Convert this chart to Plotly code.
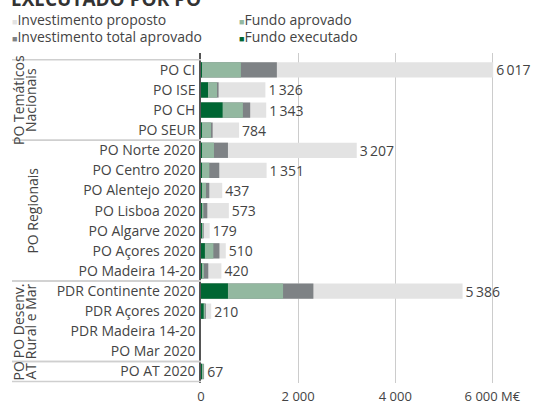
import plotly.graph_objects as go

categories = ["PO CI", "PO ISE", "PO CH", "PO SEUR",
              "PO Norte 2020", "PO Centro 2020", "PO Alentejo 2020", "PO Lisboa 2020",
              "PO Algarve 2020", "PO Açores 2020", "PO Madeira 14-20",
              "PDR Continente 2020", "PDR Açores 2020", "PDR Madeira 14-20", "PO Mar 2020",
              "PO AT 2020"]
inv_proposto = [6017, 1326, 1343, 784, 3207, 1351, 437, 573, 179, 510, 420, 5386, 210, None, None, 67]
inv_total_aprovado = [1562, 362, 1013, 240, 555, 376, 171, 130, 55, 380, 150, 2314, 100, None, None, 60]
fundo_aprovado = [822, 329, 863, 205, 267, 171, 103, 50, 30, 255, 60, 1690, 85, None, None, 55]
fundo_executado = [5, 144, 445, 5, 20, 10, 5, 5, 5, 80, 10, 555, 55, None, None, 5]

groups = [(["PO Temáticos", "Nacionais"], -0.5, 3.5),
          (["PO Regionais"], 3.5, 10.5),
          (["PO Desenv.", "Rural e Mar"], 10.5, 14.5),
          (["PO", "AT"], 14.5, 15.5)]

tick_vals = [0, 2000, 4000, 6000]
tick_text = ["0", "2 000", "4 000", "6 000 M€"]


def fmt(v):
    if v is None:
        return ""
    return f"{v:,}".replace(",", "\u2009")


C_PROP = "#e3e3e3"
C_TOT = "#7e8285"
C_FAP = "#93b8a0"
C_FEX = "#006633"

series = [("Investimento proposto", inv_proposto, C_PROP),
          ("Investimento total aprovado", inv_total_aprovado, C_TOT),
          ("Fundo aprovado", fundo_aprovado, C_FAP),
          ("Fundo executado", fundo_executado, C_FEX)]

fig = go.Figure()
for i, (name, vals, col) in enumerate(series):
    kw = {}
    if i == 0:
        kw = dict(text=[fmt(v) for v in vals], textposition="outside", constraintext="none",
                  textfont=dict(size=14, color="#444"), cliponaxis=False)
    fig.add_trace(go.Bar(y=categories, x=vals, orientation="h", name=name, showlegend=False,
                         marker=dict(color=col, line=dict(width=0)), **kw))

L, R, T, B = 201, 0, 53, 22
W, H = 539, 405
pw = W - L - R
ph = H - T - B
xl = (12 - L) / pw

shapes = []
for lines, y0, y1 in groups:
    for yy in (y0, y1):
        shapes.append(dict(type="line", xref="paper", yref="y", x0=xl, x1=0, y0=yy, y1=yy,
                           line=dict(color="#cfcfcf", width=1.5)))

annotations = []
for lines, y0, y1 in groups:
    xs = [33] if len(lines) == 1 else [18, 30]
    for txt, px in zip(lines, xs):
        annotations.append(dict(text=txt, xref="paper", yref="y", x=(px - L) / pw, y=(y0 + y1) / 2,
                                textangle=-90, showarrow=False, xanchor="center", yanchor="middle",
                                font=dict(size=14, color="#444")))

# title, cut off at the top edge as in the reference
annotations.append(dict(text="<b>EXECUTADO POR PO</b>", xref="paper", yref="paper",
                        x=(9 - L) / pw, y=1 + (T + 1.5) / ph, xanchor="left", yanchor="middle",
                        showarrow=False, font=dict(size=19, color="#333")))

# legend (2 x 2, as in the reference)
legend_pos = [(10, 20), (10, 36.5), (237, 20), (237, 36.5)]
for (name, vals, col), (lx, ly) in zip(series, legend_pos):
    annotations.append(dict(text=f'<span style="color:{col};font-size:9px">■</span>{name}',
                            xref="paper", yref="paper",
                            x=(lx - L) / pw, y=1 + (T - ly) / ph,
                            xanchor="left", yanchor="middle", showarrow=False,
                            font=dict(size=14, color="#444")))

fig.update_layout(
    width=W, height=H,
    margin=dict(l=L, r=R, t=T, b=B),
    barmode="overlay", bargap=0.24,
    plot_bgcolor="white", paper_bgcolor="white",
    font=dict(family="Open Sans", color="#444", size=13),
    showlegend=False,
    xaxis=dict(range=[0, 6960], tickvals=tick_vals, ticktext=tick_text, showgrid=True,
               gridcolor="#cccccc", gridwidth=1, zeroline=False, showline=False,
               ticklabelstandoff=4,
               tickfont=dict(size=13, color="#444"), automargin=False),
    yaxis=dict(autorange="reversed", showline=True, linecolor="#555", linewidth=1.5,
               tickmode="array", tickvals=categories, ticktext=categories,
               ticks="", ticklabelstandoff=1, tickfont=dict(size=14, color="#444"),
               showgrid=False, automargin=False),
    shapes=shapes, annotations=annotations,
)

fig.write_html("out.html", config={"displayModeBar": False},
               post_script="document.body.style.margin='0';")
